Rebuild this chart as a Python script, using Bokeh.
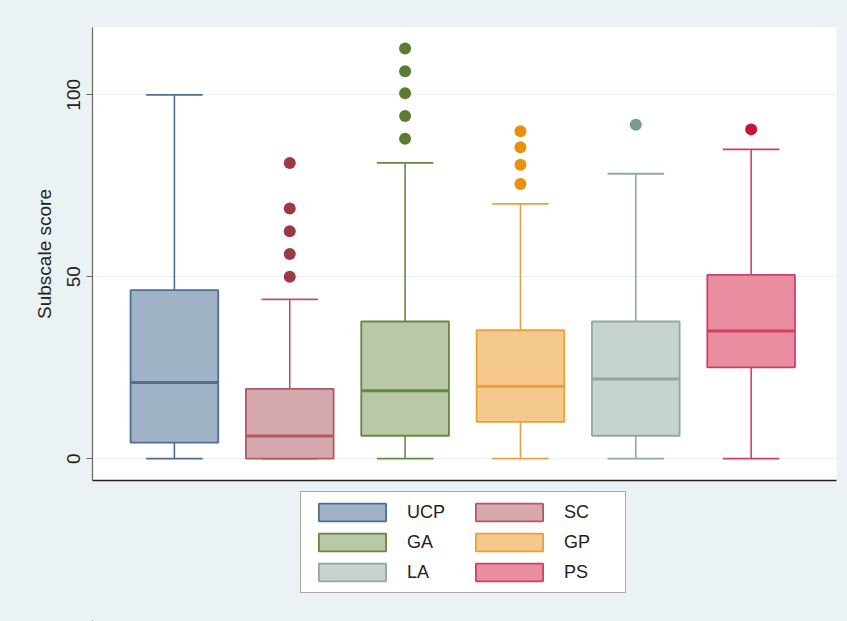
import numpy as np
from bokeh.plotting import figure
from bokeh.layouts import column
from bokeh.models import Range1d, FixedTicker, Legend, LegendItem
from bokeh.embed import file_html
from bokeh.resources import INLINE

# ---------------- data ----------------
groups = ["UCP", "SC", "GA", "GP", "LA", "PS"]
whisker_low = [0.0, 0.0, 0.0, 0.0, 0.0, 0.0]
q1 = [4.4, 0.0, 6.3, 10.1, 6.3, 25.1]
median = [20.9, 6.2, 18.7, 19.9, 21.9, 35.1]
q3 = [46.3, 19.2, 37.7, 35.3, 37.7, 50.5]
whisker_high = [100.0, 43.8, 81.3, 70.0, 78.3, 85.0]

outlier_group = ["SC"] * 5 + ["GA"] * 5 + ["GP"] * 4 + ["LA"] + ["PS"]
outlier_value = [81.25, 68.75, 62.5, 56.25, 50.0,
                 112.7, 106.5, 100.4, 94.2, 87.9,
                 90.0, 85.6, 80.8, 75.5,
                 91.8,
                 90.5]
y_ticks = [0, 50, 100]

# ---------------- styles ----------------
fill_colors = ["#A0B2C6", "#D5A9AD", "#B9C8A5", "#F5C98E", "#C6D3CE", "#E98DA1"]
line_colors = ["#4E6F93", "#B5585F", "#658842", "#E9A13D", "#8FA8A0", "#D33F62"]
dot_colors = {"UCP": "#1A476F", "SC": "#9B3A42", "GA": "#5A7D32",
              "GP": "#E8900F", "LA": "#7A9A90", "PS": "#C8143C"}
BG = "#EAF2F3"
FONT = "Liberation Sans"

xs = np.arange(1, len(groups) + 1, dtype=float)
pos = {g: x for g, x in zip(groups, xs)}
box_w = 0.76
cap_w = 0.49

# ---------------- main plot ----------------
p = figure(frame_width=744, frame_height=453, output_backend="svg", toolbar_location=None,
           x_range=Range1d(0.29, 6.74), y_range=Range1d(-6, 118.5),
           min_border_left=92, min_border_top=27, min_border_right=11,
           min_border_bottom=5)
p.background_fill_color = "white"
p.border_fill_color = BG
p.outline_line_color = None

# whiskers
p.segment(x0=xs, x1=xs, y0=q3, y1=whisker_high, line_color=line_colors, line_width=1.6)
p.segment(x0=xs, x1=xs, y0=whisker_low, y1=q1, line_color=line_colors, line_width=1.6)
p.segment(x0=xs - cap_w / 2, x1=xs + cap_w / 2, y0=whisker_high, y1=whisker_high,
          line_color=line_colors, line_width=1.8)
p.segment(x0=xs - cap_w / 2, x1=xs + cap_w / 2, y0=whisker_low, y1=whisker_low,
          line_color=line_colors, line_width=1.8)

# boxes
p.vbar(x=xs, bottom=q1, top=q3, width=box_w, fill_color=fill_colors,
       line_color=line_colors, line_width=1.8)
# medians
p.segment(x0=xs - box_w / 2, x1=xs + box_w / 2, y0=median, y1=median,
          line_color=line_colors, line_width=3)

# outliers
ox = [pos[g] for g in outlier_group]
oc = [dot_colors[g] for g in outlier_group]
p.scatter(x=ox, y=outlier_value, size=12, fill_color=oc, line_color=None)

# axes
p.xaxis.ticker = FixedTicker(ticks=[])
p.xaxis.major_tick_out = 0
p.xaxis.minor_tick_out = 0
p.xaxis.major_label_text_font_size = "0px"
p.xaxis.axis_line_color = "#222222"
p.xaxis.axis_line_width = 1.5

p.yaxis.ticker = FixedTicker(ticks=y_ticks)
p.yaxis.major_tick_out = 6
p.yaxis.major_tick_in = 0
p.yaxis.minor_tick_out = 0
p.yaxis.minor_tick_in = 0
p.yaxis.axis_line_color = "#666666"
p.yaxis.axis_line_width = 1.2
p.yaxis.major_tick_line_color = "#666666"
p.yaxis.major_label_orientation = "vertical"
p.yaxis.major_label_text_font = FONT
p.yaxis.major_label_text_font_size = "19px"
p.yaxis.major_label_text_color = "#222222"
p.yaxis.major_label_standoff = 6
p.yaxis.axis_label = "Subscale score"
p.yaxis.axis_label_text_font = FONT
p.yaxis.axis_label_text_font_size = "19px"
p.yaxis.axis_label_text_font_style = "normal"
p.yaxis.axis_label_text_color = "#222222"
p.yaxis.axis_label_standoff = 10

p.xgrid.visible = False
p.ygrid.ticker = FixedTicker(ticks=y_ticks)
p.ygrid.grid_line_color = BG
p.ygrid.grid_line_width = 1.2

# ---------------- legend panel ----------------
leg = figure(width=847, height=136, output_backend="svg", toolbar_location=None,
             x_range=Range1d(100, 101), y_range=Range1d(1000, 1001),
             min_border=0)
leg.axis.visible = False
leg.grid.visible = False
leg.outline_line_color = None
leg.background_fill_color = None
leg.border_fill_color = BG
# same boxes, outside this panel's view: only their swatches are shown
swatches = leg.vbar(x=xs, bottom=q1, top=q3, width=box_w, fill_color=fill_colors,
                    line_color=line_colors, line_width=1.8)

items = [LegendItem(label=g, renderers=[swatches], index=i) for i, g in enumerate(groups)]
legend = Legend(items=items, orientation="horizontal", ncols=2, location=(208, 28),
                glyph_width=84, glyph_height=22, label_standoff=13, spacing=8,
                padding=9, label_width=52, margin=0,
                border_line_color="#555555", border_line_width=1.5,
                background_fill_color="white", background_fill_alpha=1.0,
                label_text_font=FONT, label_text_font_size="18px",
                label_text_color="#222222")
leg.add_layout(legend, "center")

layout = column(p, leg, spacing=0, styles={"background-color": BG})
open("out.html", "w").write(file_html(layout, INLINE))
